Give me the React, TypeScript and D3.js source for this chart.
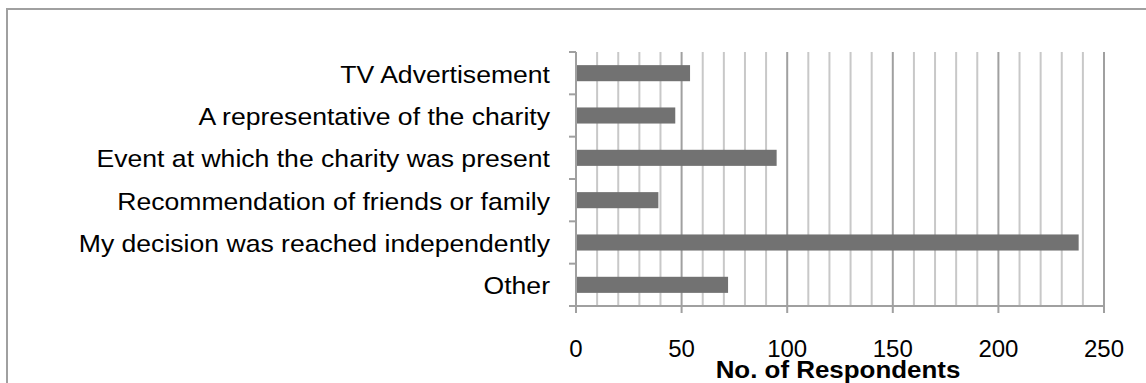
import React from "react";
import * as d3 from "d3";

const categories = [
  "TV Advertisement",
  "A representative of the charity",
  "Event at which the charity was present",
  "Recommendation of friends or family",
  "My decision was reached independently",
  "Other",
];
const values = [54, 47, 95, 39, 238, 72];
const majorTicks = [0, 50, 100, 150, 200, 250];
const minorTicks = d3.range(10, 250, 10).filter((v) => v % 50 !== 0);
const axisTitle = "No. of Respondents";

export default function App() {
  const W = 1146;
  const H = 383;
  const left = 576;
  const right = 1104;
  const top = 52;
  const bottom = 306;
  const x = d3.scaleLinear().domain([0, 250]).range([left, right]);
  const y = d3.scaleBand().domain(categories).range([top, bottom]).paddingInner(0.62).paddingOuter(0.31);
  const bandStep = (bottom - top) / categories.length;
  const boundaries = d3.range(categories.length + 1).map((i) => top + i * bandStep);
  const font = "'Liberation Sans', Arial, sans-serif";

  return (
    <svg width={W} height={H} style={{ position: "absolute", left: 0, top: 0, background: "#fff" }}>
      <rect x={7} y={9} width={W + 20} height={H + 20} fill="#fff" stroke="#a0a0a0" strokeWidth={2} />
      {minorTicks.map((t) => (
        <line key={"mi" + t} x1={x(t)} x2={x(t)} y1={top} y2={bottom} stroke="#c8c8c8" strokeWidth={2} />
      ))}
      {majorTicks.slice(1).map((t) => (
        <line key={"ma" + t} x1={x(t)} x2={x(t)} y1={top} y2={bottom + 7} stroke="#a0a0a0" strokeWidth={2} />
      ))}
      {categories.map((c, i) => (
        <rect key={"b" + c} x={x(0)} y={y(c)} width={x(values[i]) - x(0)} height={y.bandwidth()} fill="#727272" />
      ))}
      <line x1={left} x2={left} y1={top} y2={bottom + 7} stroke="#a0a0a0" strokeWidth={2} />
      <line x1={left} x2={right} y1={bottom} y2={bottom} stroke="#a0a0a0" strokeWidth={2} />
      {boundaries.map((b, i) => (
        <line key={"yt" + i} x1={left - 7} x2={left} y1={b} y2={b} stroke="#a0a0a0" strokeWidth={2} />
      ))}
      {categories.map((c) => (
        <text
          key={"l" + c}
          transform={`translate(550, ${(y(c) as number) + y.bandwidth() / 2 + 9.5}) scale(1.108, 1)`}
          textAnchor="end"
          fontFamily={font}
          fontSize={24}
          fill="#000"
        >
          {c}
        </text>
      ))}
      {majorTicks.map((t) => (
        <text key={"xt" + t} x={x(t)} y={357} textAnchor="middle" fontFamily={font} fontSize={24} fill="#000">
          {t}
        </text>
      ))}
      <text
        transform="translate(838, 378) scale(1.08, 1)"
        textAnchor="middle"
        fontFamily={font}
        fontSize={24}
        fontWeight="bold"
        fill="#000"
      >
        {axisTitle}
      </text>
    </svg>
  );
}
